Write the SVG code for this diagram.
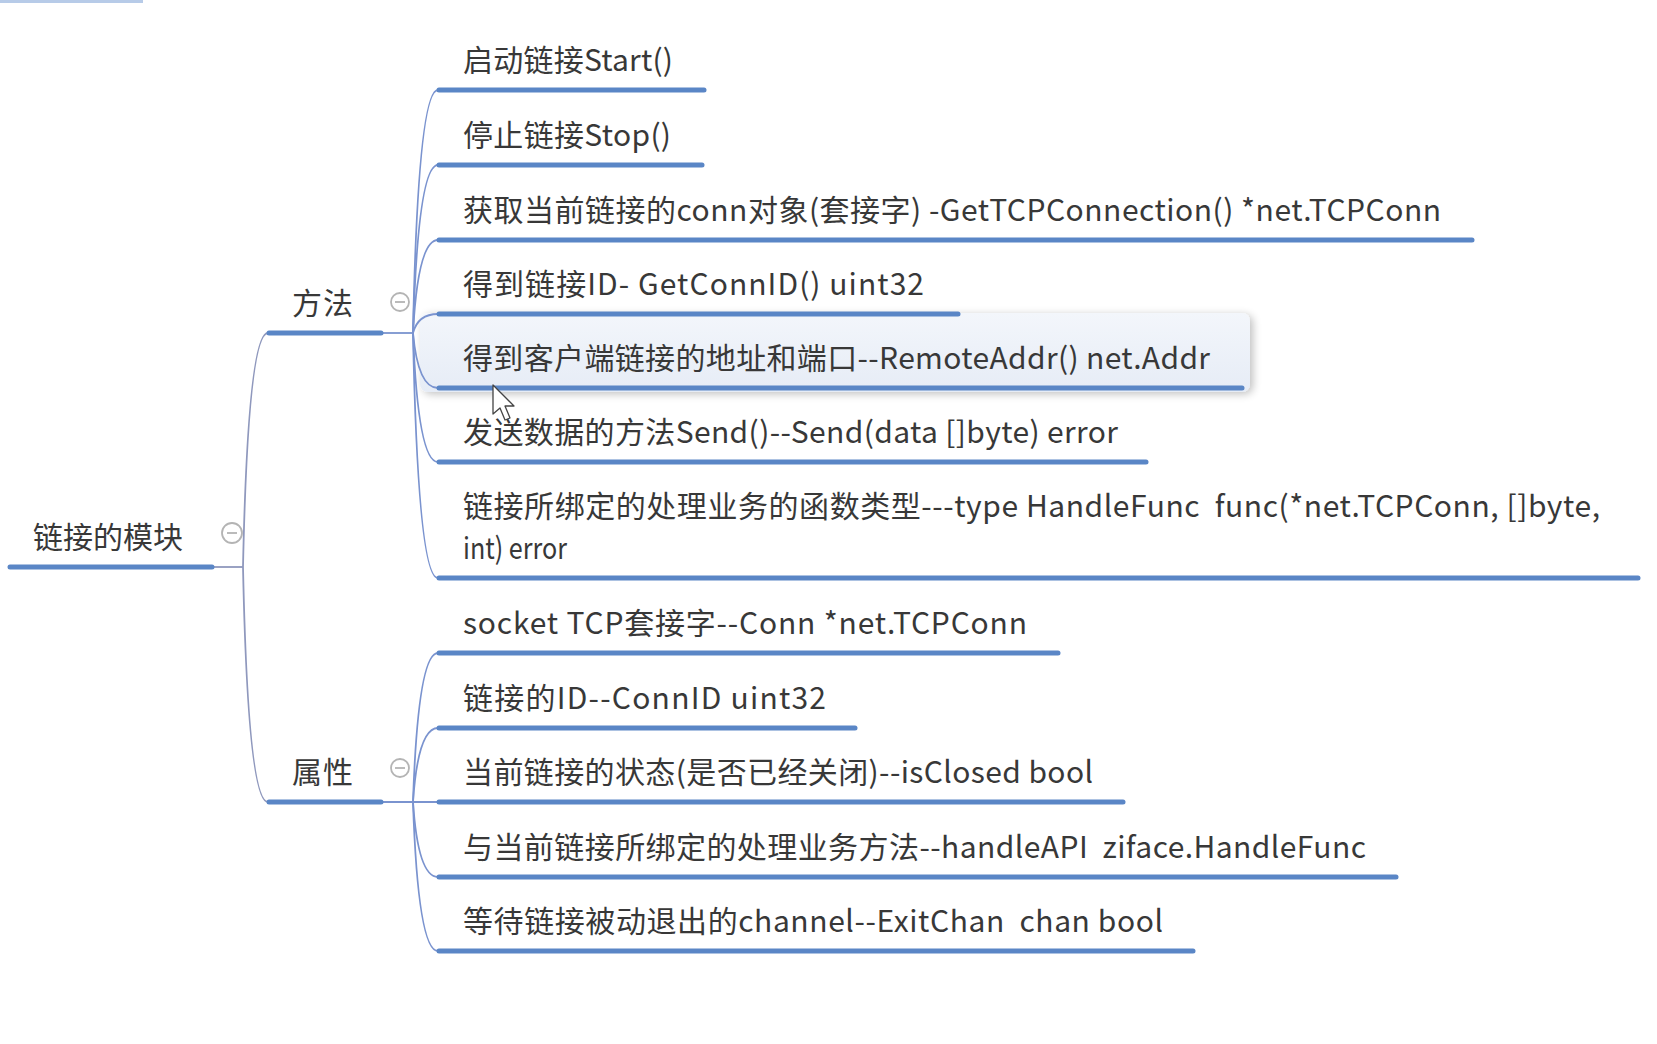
<svg xmlns="http://www.w3.org/2000/svg" width="1657" height="1044" viewBox="0 0 1657 1044">
<style>
.t{font-family:"Noto Sans CJK SC","Noto Sans",sans-serif;font-size:30px;fill:#383838;white-space:pre}
.ul{stroke:#5a86c6;stroke-width:5;stroke-linecap:round;fill:none}
.c{stroke:#8f98bd;stroke-width:1.8;fill:none}
.cb{stroke:#7a93cf;stroke-width:1.8;fill:none}
.tog{fill:#fff;stroke:#b4b4b4;stroke-width:1.8}
.togm{stroke:#b4b4b4;stroke-width:1.8}
</style>
<defs>
<linearGradient id="hl" x1="0" y1="0" x2="0" y2="1">
<stop offset="0" stop-color="#f3f6fb"/>
<stop offset="1" stop-color="#e6ecf6"/>
</linearGradient>
<filter id="sh" x="-5%" y="-30%" width="110%" height="160%">
<feGaussianBlur in="SourceAlpha" stdDeviation="4"/>
<feOffset dx="3" dy="2"/>
<feComponentTransfer><feFuncA type="linear" slope="0.25"/></feComponentTransfer>
<feMerge><feMergeNode/><feMergeNode in="SourceGraphic"/></feMerge>
</filter>
</defs>
<rect width="1657" height="1044" fill="#fff"/>
<rect x="0" y="0" width="143" height="3" fill="#b7cbe8"/>

<!-- hover highlight -->
<rect x="420" y="313" width="830" height="79" rx="8" fill="url(#hl)" filter="url(#sh)"/>

<g id="connectors">
<line class="c" x1="213" y1="567" x2="243" y2="567"/>
<path class="c" d="M243,567 Q248,333 268,333"/>
<path class="c" d="M243,567 Q248,802 268,802"/>
<line class="cb" x1="382" y1="333" x2="413" y2="333"/>
<path class="cb" d="M413,333 Q418,90 438,90"/>
<path class="cb" d="M413,333 Q418,165 438,165"/>
<path class="cb" d="M413,333 Q418,240 438,240"/>
<path class="cb" d="M413,333 Q418,314 438,314"/>
<path class="cb" d="M413,333 Q418,388 438,388"/>
<path class="cb" d="M413,333 Q418,462 438,462"/>
<path class="cb" d="M413,333 Q418,578 438,578"/>
<line class="cb" x1="382" y1="802" x2="438" y2="802"/>
<path class="cb" d="M413,802 Q418,653 438,653"/>
<path class="cb" d="M413,802 Q418,728 438,728"/>
<path class="cb" d="M413,802 Q418,877 438,877"/>
<path class="cb" d="M413,802 Q418,951 438,951"/>
</g>

<g id="root">
<text class="t" x="33" y="548" textLength="150" lengthAdjust="spacing">链接的模块</text>
<line class="ul" x1="10" y1="567" x2="212" y2="567"/>
<circle class="tog" cx="232" cy="533" r="10"/>
<line class="togm" x1="227" y1="533" x2="237" y2="533"/>
</g>

<g id="methods">
<text class="t" x="292" y="314" textLength="61" lengthAdjust="spacing">方法</text>
<line class="ul" x1="269" y1="333" x2="381" y2="333"/>
<circle class="tog" cx="400" cy="302" r="9"/>
<line class="togm" x1="395" y1="302" x2="405" y2="302"/>
</g>

<g id="attrs">
<text class="t" x="292" y="783" textLength="61" lengthAdjust="spacing">属性</text>
<line class="ul" x1="269" y1="802" x2="381" y2="802"/>
<circle class="tog" cx="400" cy="768" r="9"/>
<line class="togm" x1="395" y1="768" x2="405" y2="768"/>
</g>

<g id="m1">
<text class="t" x="463" y="71" textLength="210" lengthAdjust="spacing">启动链接Start()</text>
<line class="ul" x1="439" y1="90" x2="704" y2="90"/>
</g>
<g id="m2">
<text class="t" x="463" y="146" textLength="208" lengthAdjust="spacing">停止链接Stop()</text>
<line class="ul" x1="439" y1="165" x2="702" y2="165"/>
</g>
<g id="m3">
<text class="t" x="463" y="221" textLength="978" lengthAdjust="spacing">获取当前链接的conn对象(套接字) -GetTCPConnection() *net.TCPConn</text>
<line class="ul" x1="439" y1="240" x2="1472" y2="240"/>
</g>
<g id="m4">
<text class="t" x="463" y="295" textLength="461" lengthAdjust="spacing">得到链接ID- GetConnID() uint32</text>
<line class="ul" x1="439" y1="314" x2="958" y2="314"/>
</g>
<g id="m5">
<text class="t" x="463" y="369" textLength="747" lengthAdjust="spacing">得到客户端链接的地址和端口--RemoteAddr() net.Addr</text>
<line class="ul" x1="439" y1="388" x2="1242" y2="388"/>
</g>
<g id="m6">
<text class="t" x="463" y="443" textLength="655" lengthAdjust="spacing">发送数据的方法Send()--Send(data []byte) error</text>
<line class="ul" x1="439" y1="462" x2="1146" y2="462"/>
</g>
<g id="m7">
<text class="t" x="463" y="517" textLength="1137" lengthAdjust="spacing">链接所绑定的处理业务的函数类型---type HandleFunc  func(*net.TCPConn, []byte,</text>
<text class="t" x="463" y="559" textLength="104" lengthAdjust="spacingAndGlyphs">int) error</text>
<line class="ul" x1="439" y1="578" x2="1638" y2="578"/>
</g>

<g id="a1">
<text class="t" x="463" y="634" textLength="564" lengthAdjust="spacing">socket TCP套接字--Conn *net.TCPConn</text>
<line class="ul" x1="439" y1="653" x2="1058" y2="653"/>
</g>
<g id="a2">
<text class="t" x="463" y="709" textLength="363" lengthAdjust="spacing">链接的ID--ConnID uint32</text>
<line class="ul" x1="439" y1="728" x2="855" y2="728"/>
</g>
<g id="a3">
<text class="t" x="463" y="783" textLength="630" lengthAdjust="spacing">当前链接的状态(是否已经关闭)--isClosed bool</text>
<line class="ul" x1="439" y1="802" x2="1123" y2="802"/>
</g>
<g id="a4">
<text class="t" x="463" y="858" textLength="903" lengthAdjust="spacing">与当前链接所绑定的处理业务方法--handleAPI  ziface.HandleFunc</text>
<line class="ul" x1="439" y1="877" x2="1396" y2="877"/>
</g>
<g id="a5">
<text class="t" x="463" y="932" textLength="700" lengthAdjust="spacing">等待链接被动退出的channel--ExitChan  chan bool</text>
<line class="ul" x1="439" y1="951" x2="1193" y2="951"/>
</g>

<!-- mouse cursor -->
<path d="M493,385 L493,414 L500,408 L505,420 L510,418 L505,406 L514,406 Z" fill="#fff" stroke="#444" stroke-width="1.3" stroke-linejoin="round"/>
</svg>
